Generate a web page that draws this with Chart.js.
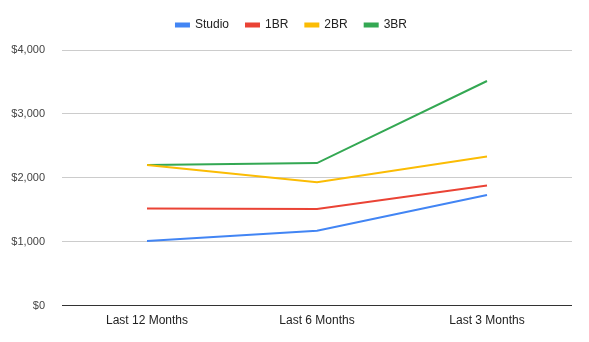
<!DOCTYPE html>
<html>
<head>
<meta charset="utf-8">
<script src="https://cdn.jsdelivr.net/npm/chart.js@4/dist/chart.umd.min.js"></script>
<style>
  html, body { margin: 0; padding: 0; background: #fff; }
  #wrap { width: 589px; height: 342px; }
</style>
</head>
<body>
<div id="wrap"><canvas id="myChart"></canvas></div>
<script>
const periods = ['Last 12 Months', 'Last 6 Months', 'Last 3 Months'];
const studio = [1010, 1170, 1730];
const oneBR = [1520, 1510, 1880];
const twoBR = [2200, 1930, 2335];
const threeBR = [2200, 2230, 3515];
const yTicks = [0, 1000, 2000, 3000, 4000];

// extra room under the legend, like the sheets chart
const legendGap = {
    id: 'legendGap',
    beforeUpdate(chart) {
        const lg = chart.legend;
        if (lg && !lg._gapPatched) {
            const fit = lg.fit;
            lg.fit = function() {
                fit.apply(this, arguments);
                this.height += 9;
            };
            lg._gapPatched = true;
        }
    }
};

window.addEventListener('load', function() {
    let ctx = document.getElementById('myChart').getContext('2d');
    Chart.defaults.font.family = "'Liberation Sans', Arial, sans-serif";
    Chart.defaults.font.size = 12;

    function series(label, data, color) {
        return {
            label: label,
            data: data,
            borderColor: color,
            backgroundColor: color,
            borderWidth: 2,
            pointRadius: 0,
            pointHoverRadius: 0,
            tension: 0
        };
    }

    new Chart(ctx, {
        type: 'line',
        data: {
            labels: periods,
            datasets: [
                series('Studio', studio, '#4285f4'),
                series('1BR', oneBR, '#ea4335'),
                series('2BR', twoBR, '#fbbc04'),
                series('3BR', threeBR, '#34a853')
            ]
        },
        plugins: [legendGap],
        options: {
            responsive: true,
            maintainAspectRatio: false,
            animation: false,
            layout: { padding: { left: 11, right: 17, top: 2, bottom: 6 } },
            plugins: {
                legend: {
                    position: 'top',
                    labels: {
                        boxWidth: 13,
                        boxHeight: 3,
                        padding: 17,
                        color: '#222'
                    }
                },
                tooltip: { enabled: false }
            },
            scales: {
                x: {
                    offset: true,
                    grid: { display: false, drawTicks: false },
                    border: { display: false },
                    ticks: { color: '#222', padding: 8 }
                },
                y: {
                    min: 0,
                    max: 4000,
                    afterBuildTicks: function(axis) {
                        axis.ticks = yTicks.map(v => ({ value: v }));
                    },
                    afterFit: function(axis) {
                        axis.width = 51;
                    },
                    grid: {
                        drawTicks: false,
                        color: c => c.tick && c.tick.value === 0 ? '#333' : '#ccc'
                    },
                    border: { display: false },
                    ticks: {
                        color: '#444',
                        font: { size: 11 },
                        padding: 17,
                        callback: v => '$' + v.toLocaleString('en-US')
                    }
                }
            }
        }
    });
});
</script>
</body>
</html>
